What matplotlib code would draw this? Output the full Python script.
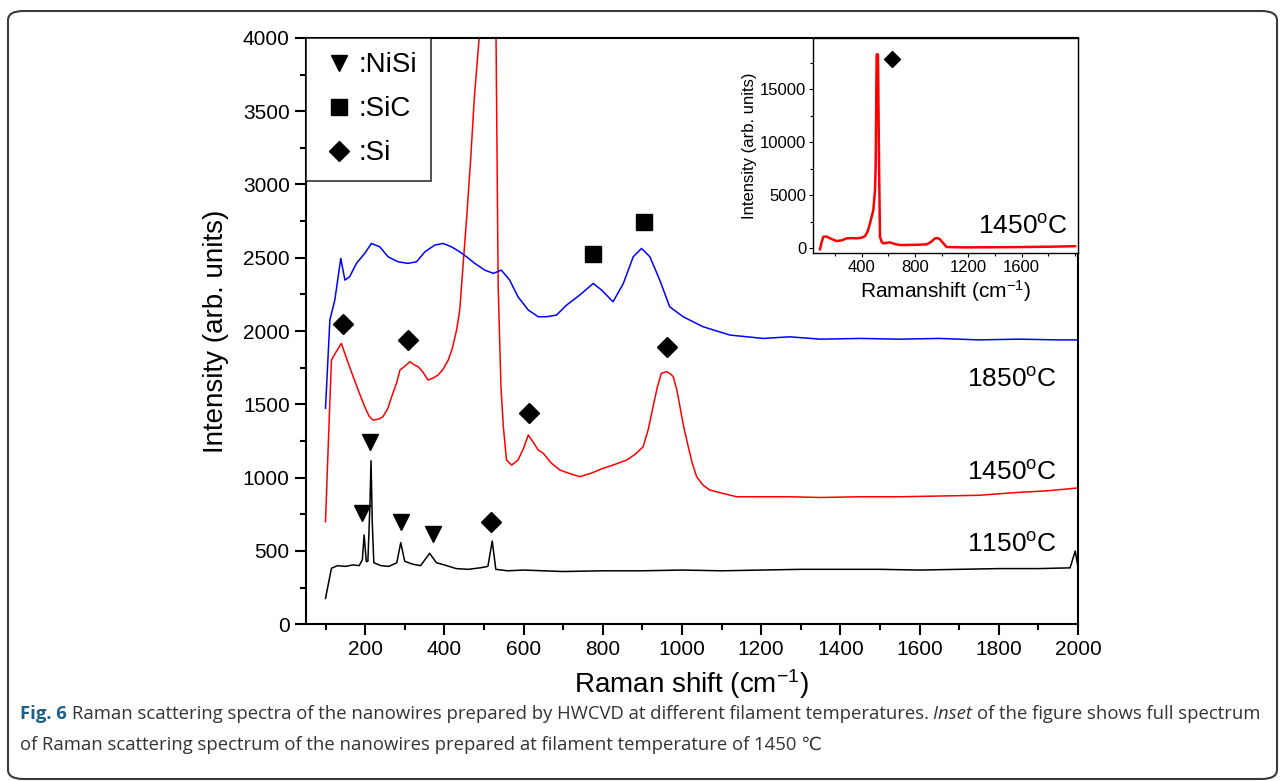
import matplotlib
matplotlib.use("Agg")
import matplotlib.pyplot as plt
from matplotlib.lines import Line2D
from matplotlib.patches import FancyBboxPatch
from matplotlib.ticker import MultipleLocator

plt.rcParams["font.family"] = ["Liberation Sans", "DejaVu Sans"]
plt.rcParams["mathtext.fontset"] = "custom"
plt.rcParams["mathtext.rm"] = "Liberation Sans"
plt.rcParams["mathtext.it"] = "Liberation Sans:italic"

# 1150 C spectrum (black)
X_1150 = [100, 115, 130, 150, 170, 185, 193, 197.5, 203, 207, 212, 215, 218, 222, 240, 260,
          280, 290, 300, 320, 340, 363, 380, 400, 430, 460, 490, 510, 521, 530, 560, 600,
          700, 800, 900, 1000, 1100, 1200, 1300, 1400, 1500, 1600, 1700, 1800, 1900, 1980,
          1993, 2000]
Y_1150 = [177, 382, 400, 395, 405, 400, 440, 609, 427, 430, 800, 1116, 700, 420, 400, 395,
          420, 557, 430, 410, 400, 484, 420, 405, 380, 375, 385, 395, 568, 375, 365, 370,
          360, 365, 365, 370, 365, 370, 375, 375, 375, 370, 375, 380, 380, 385,
          500, 390]

# 1450 C spectrum (red)
X_1450 = [100, 108, 115, 125, 140, 155, 170, 185, 199, 210, 220, 235, 245, 257, 267, 280,
          288, 300, 313, 324, 334, 346, 359, 372, 384, 397, 410, 420, 431, 439, 447, 456,
          466, 476, 488, 500, 512, 522, 529, 536, 543, 549, 557, 570, 586, 600, 612, 625,
          637, 650, 670, 692, 720, 742, 770, 801, 830, 860, 882, 902, 915, 927, 938, 948,
          961, 970, 978, 987, 995, 1005, 1016, 1026, 1037, 1053, 1070, 1100, 1138, 1205,
          1272, 1350, 1450, 1550, 1650, 1750, 1850, 1920, 2000]
Y_1450 = [700, 1300, 1803, 1850, 1916, 1800, 1689, 1580, 1484, 1420, 1393, 1400, 1416, 1470,
          1552, 1650, 1734, 1760, 1791, 1770, 1757, 1720, 1666, 1680, 1700, 1740, 1803, 1880,
          2007, 2144, 2439, 2757, 3150, 3600, 4000, 6500, 18800, 18800, 4500, 2302, 1620,
          1348, 1120, 1086, 1120, 1200, 1291, 1240, 1189, 1166, 1100, 1052, 1025, 1007,
          1030, 1064, 1090, 1120, 1160, 1211, 1330, 1484, 1620, 1712, 1723, 1710, 1689,
          1600, 1484, 1340, 1211, 1100, 1007, 950, 916, 895, 870, 870, 870, 865, 870, 870,
          875, 880, 900, 910, 930]

# 1850 C spectrum (blue)
X_1850 = [100, 111, 123.5, 138.6, 149, 161, 178, 199, 216, 237, 258, 283, 308, 330, 351,
          376, 397, 418, 439, 456, 477, 502, 524, 544, 565, 586, 612, 637, 658, 683, 709,
          742, 776, 797, 826, 852, 877, 898, 919, 944, 969, 1003, 1053, 1121, 1205, 1272,
          1350, 1450, 1550, 1650, 1750, 1850, 1950, 2000]
Y_1850 = [1473, 2075, 2212, 2496, 2348, 2371, 2462, 2530, 2598, 2575, 2507, 2473, 2462, 2473,
          2541, 2587, 2598, 2575, 2541, 2507, 2462, 2416, 2394, 2416, 2348, 2234, 2144, 2098,
          2098, 2109, 2178, 2246, 2325, 2280, 2200, 2325, 2507, 2564, 2507, 2348, 2166, 2098,
          2030, 1973, 1950, 1961, 1945, 1950, 1945, 1950, 1940, 1945, 1940, 1940]

# inset: full 1450 C spectrum
X_INSET = [87, 100, 112, 137, 170, 212, 250, 287, 330, 362, 400, 425, 445, 462, 487, 500, 505,
           512, 522, 530, 537, 550, 562, 612, 650, 687, 800, 887, 920, 950, 970, 987, 1010,
           1037, 1100, 1187, 1400, 1600, 1800, 2000]
Y_INSET = [-90, 600, 1090, 1110, 900, 685, 750, 940, 960, 940, 1000, 1155, 1600, 2345, 3590,
           5500, 7970, 18290, 18290, 7970, 1090, 600, 470, 560, 400, 310, 330, 375, 600, 940,
           960, 845, 500, 125, 100, 90, 100, 120, 150, 200]

# peak assignment markers
NISI_X = [191.7, 213.6, 290, 371.7]
NISI_Y = [757, 1245, 700, 614]
SIC_X = [775.8, 903.8]
SIC_Y = [2523, 2745]
SI_X = [143, 308.6, 519, 614, 962.6]
SI_Y = [2048, 1939, 700, 1439, 1893]

LEGEND_LABELS = [":NiSi", ":SiC", ":Si"]
TEMPS = ["1850", "1450", "1150"]
TEMP_Y = [1620, 984, 494]

W, H = 1282, 781
fig = plt.figure(figsize=(W / 100, H / 100), dpi=100)

ax = fig.add_axes([305.7 / W, 1 - 624.3 / H, (1078 - 305.7) / W, (624.3 - 37.9) / H])
ax.plot(X_1150, Y_1150, color="black", lw=1.1)
ax.plot(X_1450, Y_1450, color="#ff0000", lw=1.1)
ax.plot(X_1850, Y_1850, color="#0000ff", lw=1.1)
ax.plot(NISI_X, NISI_Y, "v", color="black", ms=12.2, ls="none")
ax.plot(SIC_X, SIC_Y, "s", color="black", ms=11.5, ls="none")
ax.plot(SI_X, SI_Y, "D", color="black", ms=9.7, ls="none")

ax.set_xlim(50, 2000)
ax.set_ylim(0, 4000)
ax.xaxis.set_major_locator(MultipleLocator(200))
ax.xaxis.set_minor_locator(MultipleLocator(100))
ax.yaxis.set_major_locator(MultipleLocator(500))
ax.yaxis.set_minor_locator(MultipleLocator(250))
ax.tick_params(which="major", direction="out", length=8, width=1.5, labelsize=15)
ax.tick_params(which="minor", direction="out", length=4.5, width=1.5)
for s in ax.spines.values():
    s.set_linewidth(1.5)
ax.set_xlabel("Raman shift (cm$^{-1}$)", fontsize=20, labelpad=6)
ax.set_ylabel("Intensity (arb. units)", fontsize=20, labelpad=10)

for t, ty in zip(TEMPS, TEMP_Y):
    ax.text(1947, ty, t + "$^{\\rm o}$C", fontsize=19, ha="right", va="baseline")

handles = [Line2D([], [], marker="v", color="black", ls="none", ms=12.2),
           Line2D([], [], marker="s", color="black", ls="none", ms=11.5),
           Line2D([], [], marker="D", color="black", ls="none", ms=9.7)]
leg = ax.legend(handles, LEGEND_LABELS, loc="upper left", bbox_to_anchor=(0, 1),
                borderaxespad=0, fontsize=20, frameon=True, fancybox=False,
                handlelength=1.37, handletextpad=0.0, labelspacing=0.65,
                borderpad=0.52, numpoints=1)
leg.get_frame().set_edgecolor("black")
leg.get_frame().set_linewidth(1.2)

# inset
axi = fig.add_axes([813.3 / W, 1 - 253.3 / H, (1078 - 813.3) / W, (253.3 - 37.9) / H])
axi.plot(X_INSET, Y_INSET, color="#ff0000", lw=1.8)
axi.plot([625], [17820], "D", color="black", ms=8.5)
axi.set_xlim(37, 2022)
axi.set_ylim(-470, 19850)
axi.set_xticks([400, 800, 1200, 1600])
axi.xaxis.set_minor_locator(MultipleLocator(200))
axi.yaxis.set_major_locator(MultipleLocator(5000))
axi.yaxis.set_minor_locator(MultipleLocator(2500))
axi.tick_params(which="major", direction="out", length=3, width=0.8, labelsize=12, pad=2)
axi.tick_params(which="minor", direction="out", length=2, width=0.8)
for s in axi.spines.values():
    s.set_linewidth(1.0)
axi.set_xlabel("Ramanshift (cm$^{-1}$)", fontsize=15, labelpad=2)
axi.set_ylabel("Intensity (arb. units)", fontsize=12, labelpad=2)
axi.text(1950, 1340, "1450$^{\\rm o}$C", fontsize=19, ha="right", va="baseline")

# frame and caption
fig.patches.append(FancyBboxPatch((8 / W, 1 - 779 / H), 1269 / W, 768 / H,
                                  boxstyle="round,pad=0,rounding_size=0.012",
                                  transform=fig.transFigure, fill=False,
                                  edgecolor="#3a3a3a", lw=1.5))

cap_font = ["Open Sans", "DejaVu Sans"]
renderer = fig.canvas.get_renderer()


def caption_line(pieces, x_px, y_px):
    x = x_px
    for txt, weight, style, color in pieces:
        t = fig.text(x / W, 1 - y_px / H, txt, fontsize=13.3, family=cap_font,
                     weight=weight, style=style, color=color, va="baseline")
        x += t.get_window_extent(renderer).width


caption_line([("Fig. 6 ", "bold", "normal", "#1f5f8b"),
              ("Raman scattering spectra of the nanowires prepared by HWCVD at different "
               "filament temperatures. ", "normal", "normal", "#333333"),
              ("Inset ", "normal", "italic", "#333333"),
              ("of the figure shows full spectrum", "normal", "normal", "#333333")],
             20, 719)
caption_line([("of Raman scattering spectrum of the nanowires prepared at filament "
               "temperature of 1450 \u2103", "normal", "normal", "#333333")], 20, 750)

fig.savefig("out.png", dpi=100)
